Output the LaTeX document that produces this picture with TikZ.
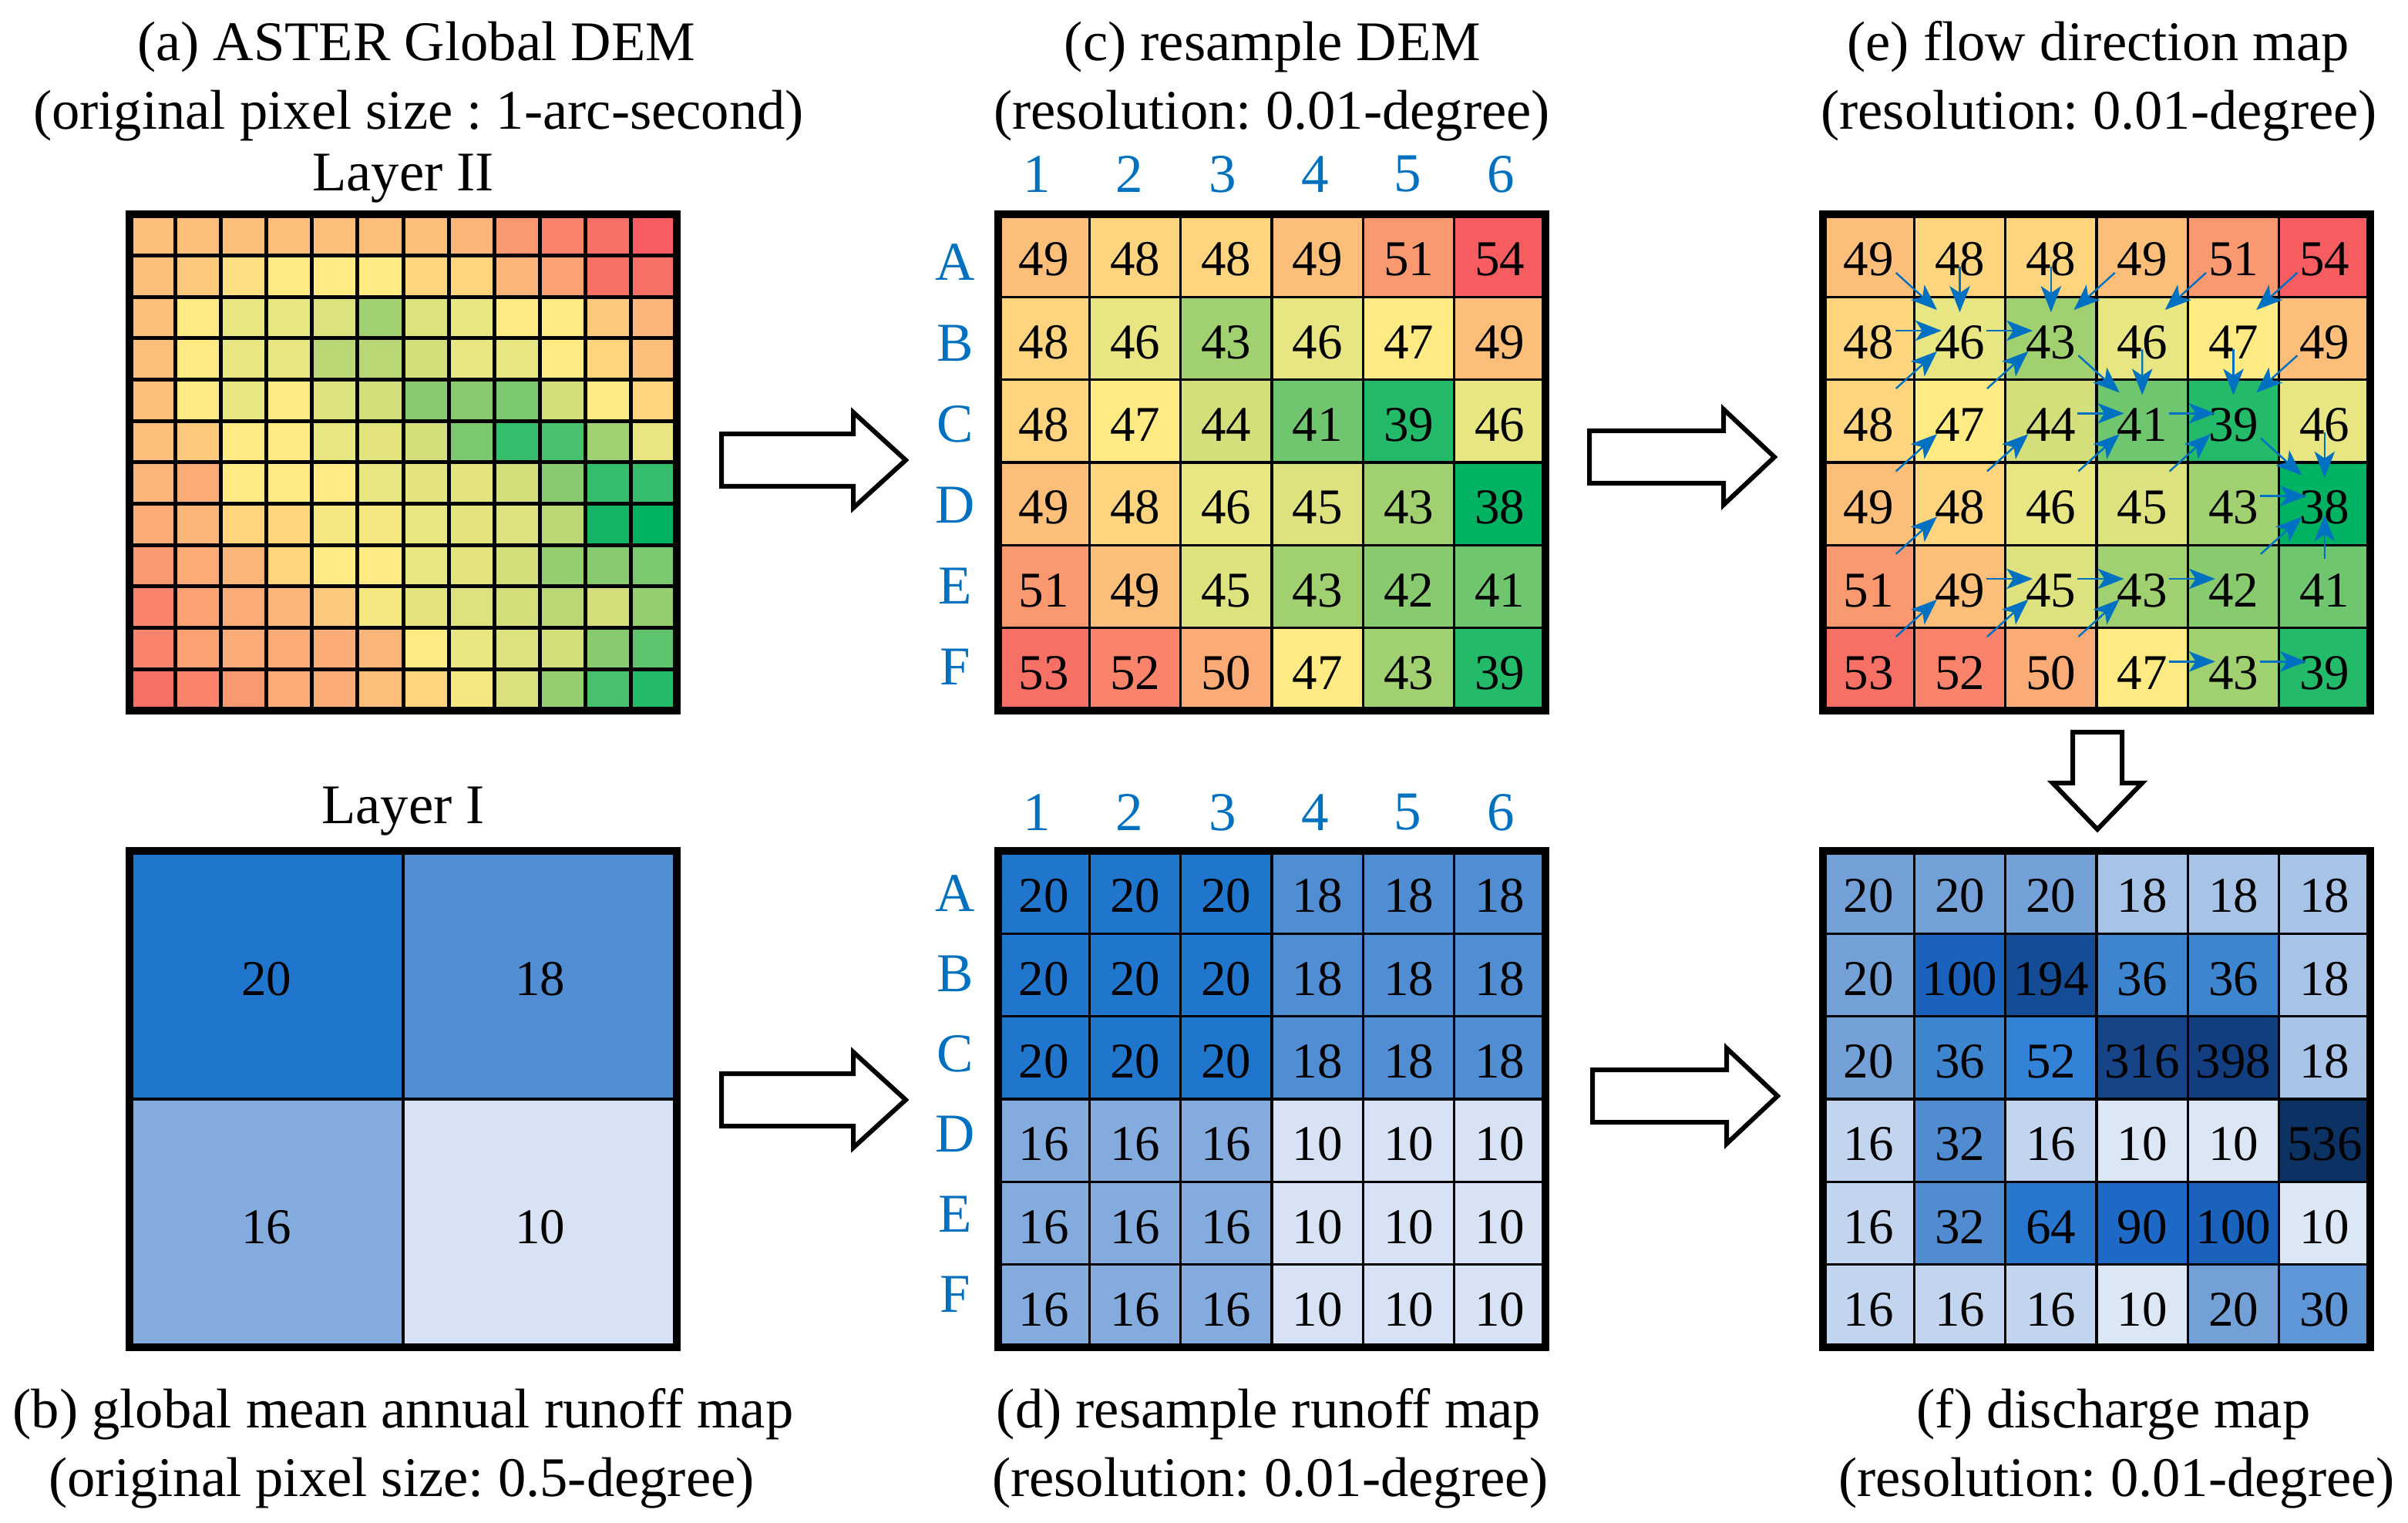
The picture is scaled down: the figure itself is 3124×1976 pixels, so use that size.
\documentclass[tikz,border=0pt]{standalone}
\usepackage{fontspec}
\setmainfont{Liberation Serif}
\newfontfamily\lserif{Liberation Serif}
\usetikzlibrary{calc,arrows.meta}
\frenchspacing

\definecolor{lblue}{RGB}{0,112,192}
% DEM colour anchors
\definecolor{k38}{RGB}{0,178,98}
\definecolor{k39}{RGB}{35,186,106}
\definecolor{k41}{RGB}{112,198,110}
\definecolor{k43}{RGB}{160,208,112}
\definecolor{k44}{RGB}{212,222,122}
\definecolor{k46}{RGB}{232,230,130}
\definecolor{k47}{RGB}{255,234,132}
\definecolor{k49}{RGB}{253,190,122}
\definecolor{k51}{RGB}{250,152,112}
\definecolor{k54}{RGB}{246,92,96}
% runoff
\definecolor{rq20}{RGB}{32,117,205}
\definecolor{rq18}{RGB}{80,141,211}
\definecolor{rq16}{RGB}{131,171,222}
\definecolor{rq10}{RGB}{215,227,244}
% discharge
\definecolor{fq10}{RGB}{220,231,246}
\definecolor{fq16}{RGB}{195,213,238}
\definecolor{fq18}{RGB}{168,195,232}
\definecolor{fq20}{RGB}{115,160,215}
\definecolor{fq30}{RGB}{95,150,215}
\definecolor{fq32}{RGB}{80,140,207}
\definecolor{fq36}{RGB}{62,133,208}
\definecolor{fq52}{RGB}{50,130,215}
\definecolor{fq64}{RGB}{40,118,205}
\definecolor{fq90}{RGB}{30,105,198}
\definecolor{fq100}{RGB}{27,98,188}
\definecolor{fq194}{RGB}{20,76,150}
\definecolor{fq316}{RGB}{22,68,135}
\definecolor{fq398}{RGB}{18,62,128}
\definecolor{fq536}{RGB}{12,50,100}

\newcommand\mixcol[5]{\pgfmathsetmacro\demp{(#1-#2)/(#3-#2)*100}\colorlet{cc}{#5!\demp!#4}}
\newcommand\setdemcol[1]{%
  \ifdim #1 pt<39pt \mixcol{#1}{38}{39}{k38}{k39}%
  \else\ifdim #1 pt<41pt \mixcol{#1}{39}{41}{k39}{k41}%
  \else\ifdim #1 pt<43pt \mixcol{#1}{41}{43}{k41}{k43}%
  \else\ifdim #1 pt<44pt \mixcol{#1}{43}{44}{k43}{k44}%
  \else\ifdim #1 pt<46pt \mixcol{#1}{44}{46}{k44}{k46}%
  \else\ifdim #1 pt<47pt \mixcol{#1}{46}{47}{k46}{k47}%
  \else\ifdim #1 pt<49pt \mixcol{#1}{47}{49}{k47}{k49}%
  \else\ifdim #1 pt<51pt \mixcol{#1}{49}{51}{k49}{k51}%
  \else \mixcol{#1}{51}{54}{k51}{k54}%
  \fi\fi\fi\fi\fi\fi\fi\fi}
\newcommand\setrqcol[1]{\colorlet{cc}{rq#1}}
\newcommand\setfqcol[1]{\colorlet{cc}{fq#1}}

\newcommand\titlefnt{\lserif\fontsize{18.15}{21}\selectfont}
\newcommand\cellfnt{\lserif\fontsize{16.25}{19}\selectfont}
\newcommand\labelfnt{\lserif\fontsize{17.75}{20}\selectfont}

% #1 X0, #2 Y0, #3 name prefix, #4 rows, #5 colour setter
\newcommand\numgrid[5]{%
  \foreach \row [count=\r] in {#4} {
    \foreach \v [count=\c] in \row {
      #5{\v}
      \fill[cc] ({#1+(\c-1)*118.3333},{#2+(\r-1)*107.3333}) rectangle +(118.3333,107.3333);
      \node[cellnum] (#3-\r-\c) at ({#1+(\c-0.5)*118.3333},{#2+(\r-0.5)*107.3333+5}) {\v};
    }
  }
  \foreach \i in {1,...,5} {
    \draw[innerS] ({#1+\i*118.3333},#2) -- ++(0,644);
    \draw[innerS] (#1,{#2+\i*107.3333}) -- ++(710,0);
  }
  \draw[gridframe] (#1,#2) rectangle ++(710,644);
}

\begin{document}
\begin{tikzpicture}[x=0.25pt,y=-0.25pt,
  gridframe/.style={line width=2.5pt, line join=miter},
  innerL/.style={line width=1.25pt},
  innerS/.style={line width=0.85pt},
  cellnum/.style={inner sep=0pt, font=\cellfnt, text=black},
  lbl/.style={inner sep=0pt, font=\labelfnt, text=lblue},
  ttl/.style={inner sep=0pt, font=\titlefnt, text=black},
  flow/.style={draw=lblue, line width=0.6pt, -{Stealth[length=8.5pt,width=6.6pt,inset=2.2pt]}},
  hollow/.style={draw=black, fill=white, line width=1.5pt, line join=miter}]
\useasboundingbox (0,0) rectangle (3124,1976);
\fill[white] (0,0) rectangle (3124,1976);

% ---------- (a) Layer II : 12 x 12 DEM ----------
\foreach \row [count=\r from 0] in {
  {49,49,49,49,49,49,49,49.5,51,52,53,54},
  {49,48.5,47.5,47,47,47,48,48,49.5,50.5,53,53},
  {49,47,46,46,45,43,45,46,47,47,48.5,49.5},
  {49,47,46,46,43.5,43.5,44,46,46,47,48,49},
  {49,47,46,47,45,44,42,42,41.5,44,47,48},
  {49,48.5,47,47,46,45.5,44,41.5,39.5,40,43,46},
  {49.5,50,47,47,47,46,45.5,45.5,44,42,39.5,39.5},
  {50,49.5,48,48,46.5,46.5,46,45.5,45,43.5,38.5,38},
  {51,50,49.5,48,47,47,46,45.5,44,42.5,42,41.5},
  {52,50.5,50,49.5,48.5,46.5,45.5,45,44,43.5,44,42.5},
  {52,50.5,50,50,50,49.5,47,46,45,44,42,40.5},
  {53,52,51,50,50,49,48,46.5,44.5,42.5,40,39}} {
  \foreach \v [count=\c from 0] in \row {
    \setdemcol{\v}
    \fill[cc] ({168+\c*59.1667},{278+\r*53.6667}) rectangle +(59.1667,53.6667);
  }
}
\foreach \i in {1,...,11} {
  \draw[innerL] ({168+\i*59.1667},278) -- ++(0,644);
  \draw[innerL] (168,{278+\i*53.6667}) -- ++(710,0);
}
\draw[gridframe] (168,278) rectangle (878,922);

% ---------- (b) Layer I : 2 x 2 runoff ----------
\fill[rq20] (168,1104) rectangle (523,1426);
\fill[rq18] (523,1104) rectangle (878,1426);
\fill[rq16] (168,1426) rectangle (523,1748);
\fill[rq10] (523,1426) rectangle (878,1748);
\draw[innerS] (523,1104) -- (523,1748);
\draw[innerS] (168,1426) -- (878,1426);
\draw[gridframe] (168,1104) rectangle (878,1748);
\node[cellnum] (b-1-1) at (345.5,1270) {20};
\node[cellnum] (b-1-2) at (700.5,1270) {18};
\node[cellnum] (b-2-1) at (345.5,1592) {16};
\node[cellnum] (b-2-2) at (700.5,1592) {10};

% ---------- (c) resample DEM ----------
\numgrid{1295}{278}{c}{{49,48,48,49,51,54},{48,46,43,46,47,49},{48,47,44,41,39,46},{49,48,46,45,43,38},{51,49,45,43,42,41},{53,52,50,47,43,39}}{\setdemcol}

% ---------- (e) flow direction ----------
\numgrid{2365}{278}{e}{{49,48,48,49,51,54},{48,46,43,46,47,49},{48,47,44,41,39,46},{49,48,46,45,43,38},{51,49,45,43,42,41},{53,52,50,47,43,39}}{\setdemcol}

% ---------- (d) resample runoff ----------
\numgrid{1295}{1104}{d}{{20,20,20,18,18,18},{20,20,20,18,18,18},{20,20,20,18,18,18},{16,16,16,10,10,10},{16,16,16,10,10,10},{16,16,16,10,10,10}}{\setrqcol}

% ---------- (f) discharge ----------
\numgrid{2365}{1104}{f}{{20,20,20,18,18,18},{20,100,194,36,36,18},{20,36,52,316,398,18},{16,32,16,10,10,536},{16,32,64,90,100,10},{16,16,16,10,20,30}}{\setfqcol}

% ---------- row / column labels ----------
\foreach \l [count=\i] in {A,B,C,D,E,F} {
  \node[lbl] (cr\i) at (1239,{278+62+105*(\i-1)}) {\l};
  \node[lbl] (dr\i) at (1239,{1104+55+104*(\i-1)}) {\l};
}
\foreach \i in {1,...,6} {
  \node[lbl] (cc\i) at ({1345+120.4*(\i-1)},226) {\i};
  \node[lbl] (dc\i) at ({1345+120.4*(\i-1)},1054) {\i};
}

% ---------- flow direction arrows ----------
\foreach \a/\b/\c/\d/\s/\p/\q in {
  2/1/2/2/-15/0.29/0.8, 2/2/2/3/-15/0.29/0.8, 3/3/3/4/-15/0.29/0.8, 3/4/3/5/-15/0.29/0.8,
  4/5/4/6/-15/0.29/0.8, 5/2/5/3/-15/0.29/0.8, 5/3/5/4/-15/0.29/0.8, 5/4/5/5/-15/0.29/0.8,
  6/4/6/5/-15/0.29/0.8, 6/5/6/6/-15/0.29/0.8,
  1/2/2/2/-12/0.2/0.75, 1/3/2/3/-12/0.2/0.75, 2/4/3/4/-12/0.2/0.75, 2/5/3/5/-12/0.2/0.75,
  3/6/4/6/-12/0.2/0.75, 5/6/4/6/-12/0.27/0.8,
  1/1/2/2/-15/0.3/0.75, 1/4/2/3/-15/0.3/0.75, 1/5/2/4/-15/0.3/0.75, 1/6/2/5/-15/0.3/0.75,
  3/1/2/2/-15/0.3/0.75, 3/2/2/3/-15/0.3/0.75, 2/3/3/4/-15/0.3/0.75, 2/6/3/5/-15/0.3/0.75,
  4/1/3/2/-15/0.3/0.75, 4/2/3/3/-15/0.3/0.75, 4/3/3/4/-15/0.3/0.75, 4/4/3/5/-15/0.3/0.75,
  3/5/4/6/-15/0.3/0.75, 5/5/4/6/-15/0.3/0.75, 5/1/4/2/-15/0.3/0.75,
  6/1/5/2/-15/0.3/0.75, 6/2/5/3/-15/0.3/0.75, 6/3/5/4/-15/0.3/0.75} {
  \draw[flow] ($(e-\a-\b.center)!\p!(e-\c-\d.center)+(0,\s)$) -- ($(e-\a-\b.center)!\q!(e-\c-\d.center)+(0,\s)$);
}

% ---------- hollow block arrows ----------
\draw[hollow] (936,563) -- (1107,563) -- (1107,535) -- (1175,597) -- (1107,659) -- (1107,631) -- (936,631) -- cycle;
\draw[hollow] (2062,559) -- (2236,559) -- (2236,531) -- (2302,593) -- (2236,655) -- (2236,627) -- (2062,627) -- cycle;
\draw[hollow] (936,1393) -- (1107,1393) -- (1107,1365) -- (1175,1427) -- (1107,1489) -- (1107,1461) -- (936,1461) -- cycle;
\draw[hollow] (2066,1388) -- (2240,1388) -- (2240,1360) -- (2306,1422) -- (2240,1484) -- (2240,1456) -- (2066,1456) -- cycle;
\draw[hollow] (2689,950) -- (2689,1016) -- (2663,1016) -- (2721,1076) -- (2779,1016) -- (2753,1016) -- (2753,950) -- cycle;

% ---------- titles ----------
\node[ttl] (ta1) at (540,61) {(a) ASTER Global DEM};
\node[ttl] (ta2) at (543,150) {(original pixel size : 1-arc-second)};
\node[ttl] (la2) at (523,232) {Layer II};
\node[ttl] (tc1) at (1651,61) {(c) resample DEM};
\node[ttl] (tc2) at (1650,150) {(resolution: 0.01-degree)};
\node[ttl] (te1) at (2722,61) {(e) flow direction map};
\node[ttl] (te2) at (2723,150) {(resolution: 0.01-degree)};
\node[ttl] (la1) at (523,1053) {Layer I};
\node[ttl] (tb1) at (523,1835) {(b) global mean annual runoff map};
\node[ttl] (tb2) at (521,1924) {(original pixel size: 0.5-degree)};
\node[ttl] (td1) at (1646,1835) {(d) resample runoff map};
\node[ttl] (td2) at (1648,1924) {(resolution: 0.01-degree)};
\node[ttl] (tf1) at (2742,1835) {(f) discharge map};
\node[ttl] (tf2) at (2746,1924) {(resolution: 0.01-degree)};
\end{tikzpicture}
\end{document}
